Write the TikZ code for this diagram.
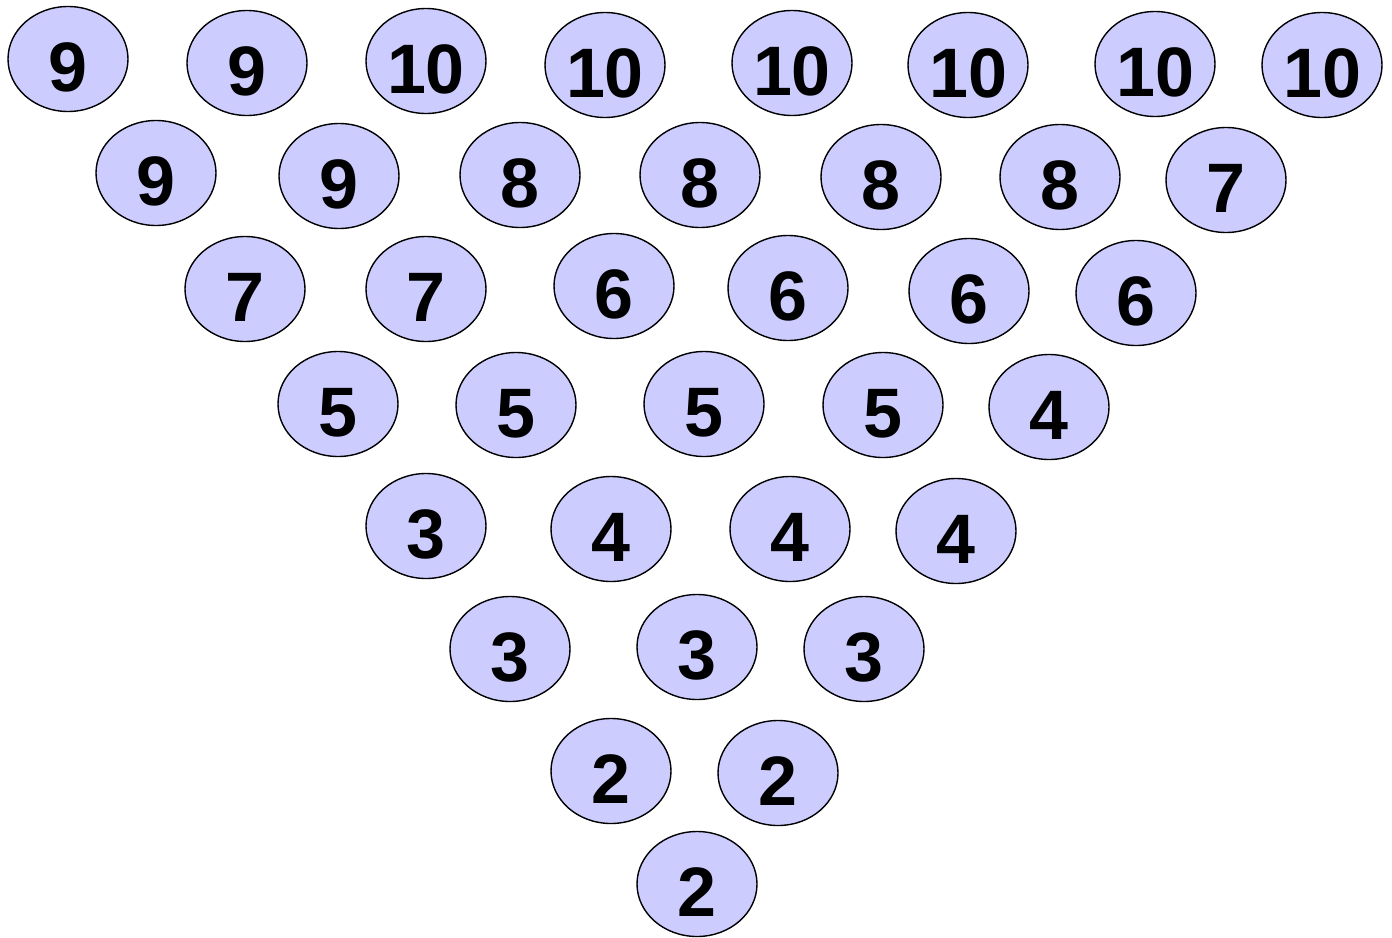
\documentclass[tikz,border=0pt]{standalone}
\usepackage{fontspec}
\setmainfont{Liberation Sans}
\usetikzlibrary{shapes.geometric}
\definecolor{ballfill}{HTML}{CCCCFF}
\tikzset{
  ball/.style={ellipse, draw=black, line width=1.4pt, fill=ballfill,
    minimum width=120pt, minimum height=105pt, inner sep=0pt,
    text height=64pt, text depth=0pt,
    font=\fontsize{70}{70}\selectfont\bfseries}
}
\begin{document}
\begin{tikzpicture}[x=1pt,y=-1pt]
\useasboundingbox (0,0) rectangle (1392,937);
% row 1
\node[ball] (a1) at (68,59) {9};
\node[ball] (a2) at (247,63) {9};
\node[ball] (a3) at (426,61) {10};
\node[ball] (a4) at (605,65) {10};
\node[ball] (a5) at (792,63) {10};
\node[ball] (a6) at (968,65) {10};
\node[ball] (a7) at (1155,64) {10};
\node[ball] (a8) at (1322,65) {10};
% row 2
\node[ball] (b1) at (156,173) {9};
\node[ball] (b2) at (339,176) {9};
\node[ball] (b3) at (520,175) {8};
\node[ball] (b4) at (700,175) {8};
\node[ball] (b5) at (881,177) {8};
\node[ball] (b6) at (1060,177) {8};
\node[ball] (b7) at (1226,180) {7};
% row 3
\node[ball] (c1) at (245,289) {7};
\node[ball] (c2) at (426,289) {7};
\node[ball] (c3) at (614,286) {6};
\node[ball] (c4) at (788,288) {6};
\node[ball] (c5) at (969,291) {6};
\node[ball] (c6) at (1136,293) {6};
% row 4
\node[ball] (d1) at (338,404) {5};
\node[ball] (d2) at (516,405) {5};
\node[ball] (d3) at (704,404) {5};
\node[ball] (d4) at (883,405) {5};
\node[ball] (d5) at (1049,407) {4};
% row 5
\node[ball] (e1) at (426,526) {3};
\node[ball] (e2) at (611,529) {4};
\node[ball] (e3) at (790,529) {4};
\node[ball] (e4) at (956,531) {4};
% row 6
\node[ball] (f1) at (510,649) {3};
\node[ball] (f2) at (697,647) {3};
\node[ball] (f3) at (864,649) {3};
% row 7
\node[ball] (g1) at (611,771) {2};
\node[ball] (g2) at (778,773) {2};
% row 8
\node[ball] (h1) at (697,884) {2};
\end{tikzpicture}
\end{document}
